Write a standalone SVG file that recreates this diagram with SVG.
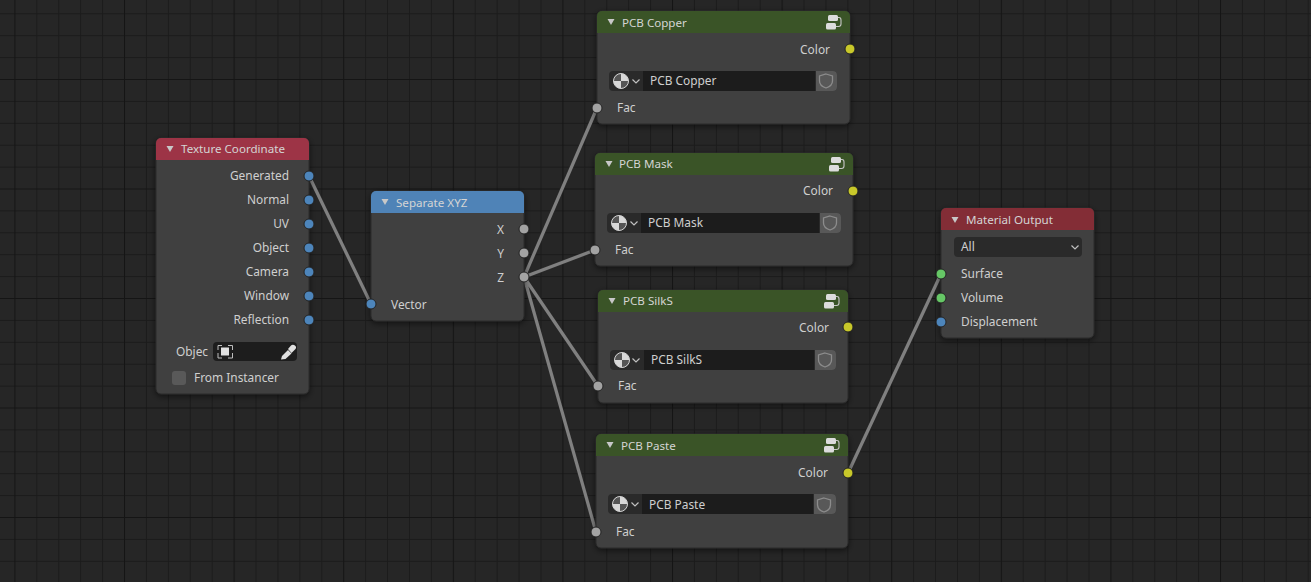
<svg xmlns="http://www.w3.org/2000/svg" width="1311" height="582" viewBox="0 0 1311 582">
<style>
text{font-family:"Noto Sans","Open Sans","DejaVu Sans",sans-serif;font-size:11.9px;fill:#cfcfcf}
.r{text-anchor:end}
.t{fill:#d4d4d4;font-size:11.6px}
.body{fill:#404040;stroke:#2a2a2a;stroke-width:1;filter:url(#sh)}
.tri{fill:#c8c8c8}
.wire{stroke:#808080;stroke-width:3.2;fill:none;stroke-linecap:round}
.wb{stroke:#2c2c2c;stroke-width:4.6;fill:none;opacity:.55}
.sk{stroke:#232323;stroke-width:1}
.g{fill:#a3a3a3}.b{fill:#4d85bb}.y{fill:#c8c82a}.n{fill:#66c766}
.grid{stroke:#1b1b1b;stroke-width:1}
.major{stroke:#151515;stroke-width:1.2}
</style>
<defs>
<filter id="sh" x="-10%" y="-10%" width="120%" height="125%"><feDropShadow dx="0" dy="2" stdDeviation="3" flood-color="#000" flood-opacity=".55"/></filter>
<pattern id="gp" patternUnits="userSpaceOnUse" x="14.4" y="-30.5" width="109.6" height="109.5">
<path class="grid" fill="none" d="M.5 0V109.5M22.4 0V109.5M44.3 0V109.5M66.3 0V109.5M88.2 0V109.5M0 .5H109.6M0 22.4H109.6M0 44.3H109.6M0 66.2H109.6M0 88.1H109.6"/>
<path class="major" fill="none" d="M.5 0V109.5M0 .5H109.6"/>
</pattern>
<g id="ball"><circle r="7.5" fill="#d8d8d8"/><path d="M0 0V-7.5A7.500 7.500 0 0 0 -7.5 0ZM0 0V7.5A7.500 7.500 0 0 0 7.500 0Z" fill="#555"/><circle r="7.5" fill="none" stroke="#d0d0d0" stroke-width="1"/></g>
<path id="chev" d="M-3.5-1.5L0 2L3.5-1.5" fill="none" stroke="#c0c0c0" stroke-width="1.2"/>
<path id="shield" d="M0-7L6.500-5V0C6.500 3.500 3 6 0 7C-3 6-6.500 3.500-6.500 0V-5Z" fill="none" stroke="#8c8c8c" stroke-width="1.3"/>
<g id="fake"><rect x="2" y="0" width="10" height="6" rx="1.500" fill="#dcdcdc"/><rect x="0" y="8" width="10" height="6.500" rx="1.500" fill="#dcdcdc"/><path d="M12 2.500H13Q15 2.500 15 5V9Q15 11.500 12.500 11.500H10" fill="none" stroke="#c8c8c8" stroke-width="1.100"/></g>
<path id="arrow" d="M-3.500-3H3.500L0 3Z"/>
</defs>
<rect width="1311" height="582" fill="#262626"/>
<rect width="1311" height="582" fill="url(#gp)"/>

<g id="connectors">
<path class="wb" d="M309 176L371 304M524 277L597 108M524 277L595 250M524 277L598 386M524 277L596 532M848 473L941 274"/>
<path class="wire" d="M309 176L371 304M524 277L597 108M524 277L595 250M524 277L598 386M524 277L596 532M848 473L941 274"/>
</g>

<g id="texture-coordinate">
<rect class="body" x="156" y="138" width="153" height="256" rx="5"/>
<path d="M156 160V143a5 5 0 0 1 5-5H304a5 5 0 0 1 5 5V160Z" fill="#9d3446"/>
<use href="#arrow" class="tri" transform="translate(170,149)"/>
<text class="t" x="181" y="153">Texture Coordinate</text>
<text class="r" x="289" y="180">Generated</text><circle class="sk b" cx="309" cy="176" r="5"/>
<text class="r" x="289" y="204">Normal</text><circle class="sk b" cx="309" cy="200" r="5"/>
<text class="r" x="289" y="228">UV</text><circle class="sk b" cx="309" cy="224" r="5"/>
<text class="r" x="289" y="252">Object</text><circle class="sk b" cx="309" cy="248" r="5"/>
<text class="r" x="289" y="276">Camera</text><circle class="sk b" cx="309" cy="272" r="5"/>
<text class="r" x="289" y="300">Window</text><circle class="sk b" cx="309" cy="296" r="5"/>
<text class="r" x="289" y="324">Reflection</text><circle class="sk b" cx="309" cy="320" r="5"/>
<text x="176" y="356">Objec</text>
<rect x="213" y="342" width="84" height="19" rx="4" fill="#1d1d1d"/>
<rect x="221" y="347.500" width="8" height="8" fill="#e0e0e0"/>
<path d="M218 350V345.500H222M228 345.500H232.500V350M232.500 353V358H228M222 358H218V353" fill="none" stroke="#bdbdbd" stroke-width="1"/>
<path d="M281 359.500L282 356L288 350L291.500 353.500L285.500 359Z" fill="#e0e0e0"/><path d="M288 349L291 345.500Q293 344 295.500 346Q297 348 294.500 350L291.500 353Z" fill="#e0e0e0"/>
<rect x="172" y="371" width="14" height="14" rx="3" fill="#595959"/>
<text x="194" y="382">From Instancer</text>
</g>

<g id="separate-xyz">
<rect class="body" x="371" y="191" width="153" height="130" rx="5"/>
<path d="M371 213V196a5 5 0 0 1 5-5H519a5 5 0 0 1 5 5V213Z" fill="#4f83b7"/>
<use href="#arrow" class="tri" transform="translate(385,202)"/>
<text class="t" x="396" y="207">Separate XYZ</text>
<text class="r" x="504" y="234">X</text><circle class="sk g" cx="524" cy="229" r="5"/>
<text class="r" x="504" y="258">Y</text><circle class="sk g" cx="524" cy="253" r="5"/>
<text class="r" x="504" y="282">Z</text><circle class="sk g" cx="524" cy="277" r="5"/>
<text x="391" y="309">Vector</text><circle class="sk b" cx="371" cy="304" r="5"/>
</g>

<g id="pcb-copper" transform="translate(597,11)">
<rect class="body" width="253" height="113" rx="5"/>
<path d="M0 22V5a5 5 0 0 1 5-5H248a5 5 0 0 1 5 5V22Z" fill="#3a5427"/>
<use href="#arrow" class="tri" transform="translate(14,11)"/>
<text class="t" x="25" y="16">PCB Copper</text>
<use href="#fake" transform="translate(229,4)"/>
<text class="r" x="233" y="43">Color</text><circle class="sk y" cx="253" cy="38" r="5"/>
<rect x="12" y="60" width="228" height="20" rx="4" fill="#2a2a2a"/>
<use href="#ball" transform="translate(24,70)"/><use href="#chev" transform="translate(39,70)"/>
<rect x="46" y="60" width="172" height="20" fill="#1c1c1c"/>
<path d="M219 60H236a4 4 0 0 1 4 4V76a4 4 0 0 1-4 4H219Z" fill="#585858"/>
<use href="#shield" transform="translate(229,70)"/>
<text x="53" y="74">PCB Copper</text>
<text x="20" y="101">Fac</text><circle class="sk g" cy="97" r="5"/>
</g>

<g id="pcb-mask" transform="translate(595,153)">
<rect class="body" width="258" height="113" rx="5"/>
<path d="M0 22V5a5 5 0 0 1 5-5H253a5 5 0 0 1 5 5V22Z" fill="#3a5427"/>
<use href="#arrow" class="tri" transform="translate(14,11)"/>
<text class="t" x="24" y="15">PCB Mask</text>
<use href="#fake" transform="translate(234,4)"/>
<text class="r" x="238" y="42">Color</text><circle class="sk y" cx="258" cy="38" r="5"/>
<rect x="12" y="60" width="234" height="20" rx="4" fill="#2a2a2a"/>
<use href="#ball" transform="translate(24,70)"/><use href="#chev" transform="translate(39,70)"/>
<rect x="46" y="60" width="178" height="20" fill="#1c1c1c"/>
<path d="M225 60H242a4 4 0 0 1 4 4V76a4 4 0 0 1-4 4H225Z" fill="#585858"/>
<use href="#shield" transform="translate(235,70)"/>
<text x="53" y="74">PCB Mask</text>
<text x="20" y="101">Fac</text><circle class="sk g" cy="97" r="5"/>
</g>

<g id="pcb-silks" transform="translate(598,290)">
<rect class="body" width="250" height="113" rx="5"/>
<path d="M0 22V5a5 5 0 0 1 5-5H245a5 5 0 0 1 5 5V22Z" fill="#3a5427"/>
<use href="#arrow" class="tri" transform="translate(14,11)"/>
<text class="t" x="25" y="15">PCB SilkS</text>
<use href="#fake" transform="translate(226,4)"/>
<text class="r" x="231" y="42">Color</text><circle class="sk y" cx="250" cy="37" r="5"/>
<rect x="12" y="60" width="226" height="20" rx="4" fill="#2a2a2a"/>
<use href="#ball" transform="translate(24,70)"/><use href="#chev" transform="translate(38,70)"/>
<rect x="46" y="60" width="170" height="20" fill="#1c1c1c"/>
<path d="M217 60H234a4 4 0 0 1 4 4V76a4 4 0 0 1-4 4H217Z" fill="#585858"/>
<use href="#shield" transform="translate(227,70)"/>
<text x="53" y="74">PCB SilkS</text>
<text x="20" y="100">Fac</text><circle class="sk g" cy="96" r="5"/>
</g>

<g id="pcb-paste" transform="translate(596,434)">
<rect class="body" width="252" height="114" rx="5"/>
<path d="M0 22V5a5 5 0 0 1 5-5H247a5 5 0 0 1 5 5V22Z" fill="#3a5427"/>
<use href="#arrow" class="tri" transform="translate(14,11)"/>
<text class="t" x="25" y="16">PCB Paste</text>
<use href="#fake" transform="translate(228,4)"/>
<text class="r" x="232" y="43">Color</text><circle class="sk y" cx="252" cy="39" r="5"/>
<rect x="12" y="60" width="228" height="20" rx="4" fill="#2a2a2a"/>
<use href="#ball" transform="translate(24,70)"/><use href="#chev" transform="translate(39,70)"/>
<rect x="46" y="60" width="171" height="20" fill="#1c1c1c"/>
<path d="M218 60H236a4 4 0 0 1 4 4V76a4 4 0 0 1-4 4H218Z" fill="#585858"/>
<use href="#shield" transform="translate(228,71)"/>
<text x="53" y="75">PCB Paste</text>
<text x="20" y="102">Fac</text><circle class="sk g" cy="98" r="5"/>
</g>

<g id="material-output">
<rect class="body" x="941" y="208" width="153" height="130" rx="5"/>
<path d="M941 230V213a5 5 0 0 1 5-5H1089a5 5 0 0 1 5 5V230Z" fill="#832d36"/>
<use href="#arrow" class="tri" transform="translate(955,220)"/>
<text class="t" x="966" y="224">Material Output</text>
<rect x="954" y="237" width="128" height="20" rx="4" fill="#2a2a2a"/>
<text x="961" y="251">All</text>
<use href="#chev" transform="translate(1075,247)"/>
<text x="961" y="278">Surface</text><circle class="sk n" cx="941" cy="274" r="5"/>
<text x="961" y="302">Volume</text><circle class="sk n" cx="941" cy="298" r="5"/>
<text x="961" y="326">Displacement</text><circle class="sk b" cx="941" cy="322" r="5"/>
</g>
</svg>
